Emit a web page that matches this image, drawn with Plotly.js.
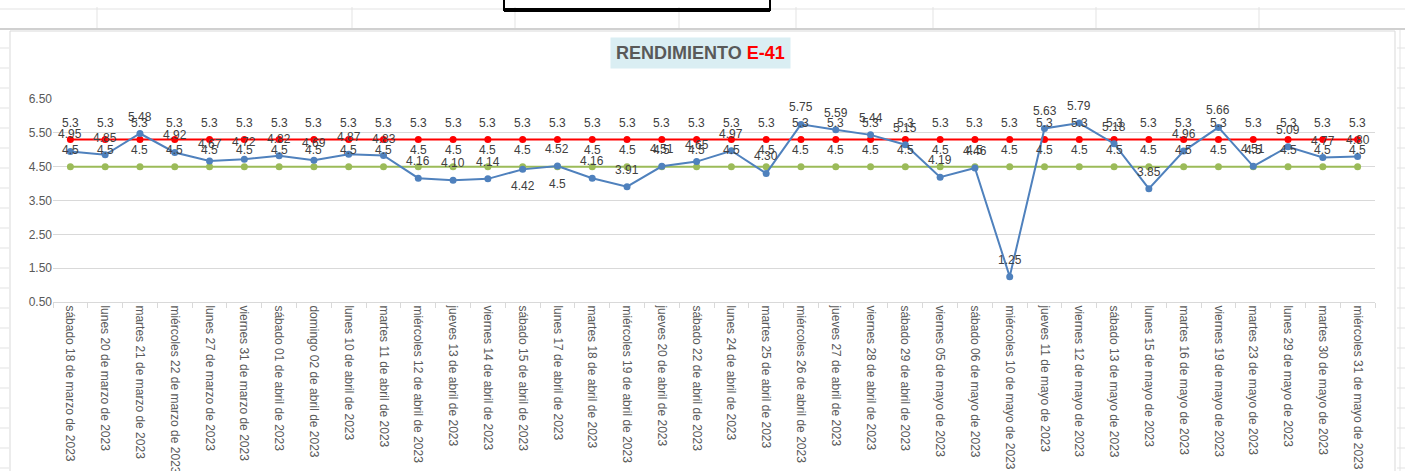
<!DOCTYPE html>
<html>
<head>
<meta charset="utf-8">
<script src="https://cdn.plot.ly/plotly-3.0.1.min.js"></script>
<style>
html,body{margin:0;padding:0;background:#ffffff;}
#chart{width:1405px;height:471px;}
</style>
</head>
<body>
<div id="chart"></div>
<script>
const categories = [
  "sábado 18 de marzo de 2023","lunes 20 de marzo de 2023","martes 21 de marzo de 2023","miércoles 22 de marzo de 2023",
  "lunes 27 de marzo de 2023","viernes 31 de marzo de 2023","sábado 01 de abril de 2023","domingo 02 de abril de 2023",
  "lunes 10 de abril de 2023","martes 11 de abril de 2023","miércoles 12 de abril de 2023","jueves 13 de abril de 2023",
  "viernes 14 de abril de 2023","sábado 15 de abril de 2023","lunes 17 de abril de 2023","martes 18 de abril de 2023",
  "miércoles 19 de abril de 2023","jueves 20 de abril de 2023","sábado 22 de abril de 2023","lunes 24 de abril de 2023",
  "martes 25 de abril de 2023","miércoles 26 de abril de 2023","jueves 27 de abril de 2023","viernes 28 de abril de 2023",
  "sábado 29 de abril de 2023","viernes 05 de mayo de 2023","sábado 06 de mayo de 2023","miércoles 10 de mayo de 2023",
  "jueves 11 de mayo de 2023","viernes 12 de mayo de 2023","sábado 13 de mayo de 2023","lunes 15 de mayo de 2023",
  "martes 16 de mayo de 2023","viernes 19 de mayo de 2023","martes 23 de mayo de 2023","lunes 29 de mayo de 2023",
  "martes 30 de mayo de 2023","miércoles 31 de mayo de 2023"
];
const rendimiento = [4.95,4.85,5.48,4.92,4.67,4.72,4.82,4.69,4.87,4.83,4.16,4.10,4.14,4.42,4.52,4.16,3.91,4.51,4.65,4.97,
  4.30,5.75,5.59,5.44,5.15,4.19,4.46,1.25,5.63,5.79,5.18,3.85,4.96,5.66,4.51,5.09,4.77,4.80];
const maximo = categories.map(() => 5.3);
const minimo = categories.map(() => 4.5);
const yTicks = [0.5,1.5,2.5,3.5,4.5,5.5,6.5];

const L = 53, R = 30, T = 99, B = 169, W = 1405, H = 471;
const pw = W - L - R, ph = H - T - B;
const px = v => (v - L) / pw;
const py = v => (H - B - v) / ph;

const blueColor = '#4F81BD', redColor = '#FF0000', greenColor = '#9BBB59';
const labelFont = {family: 'Liberation Sans, Arial, sans-serif', size: 12, color: '#404040'};
const LABEL_SHIFT = 17;

const traces = [
  {x: categories, y: minimo, type: 'scatter', mode: 'lines+markers', name: 'Mínimo',
   line: {color: greenColor, width: 2}, marker: {color: greenColor, size: 7}, hoverinfo: 'skip'},
  {x: categories, y: maximo, type: 'scatter', mode: 'lines+markers', name: 'Máximo',
   line: {color: redColor, width: 2}, marker: {color: redColor, size: 7}, hoverinfo: 'skip'},
  {x: categories, y: rendimiento, type: 'scatter', mode: 'lines+markers', name: 'Rendimiento',
   line: {color: blueColor, width: 2}, marker: {color: blueColor, size: 7}, hoverinfo: 'skip'}
];

function labels(values, fmt, belowIdx) {
  return values.map((v, i) => ({
    x: categories[i], y: v, xref: 'x', yref: 'y', text: fmt(v), showarrow: false,
    xanchor: 'center', yanchor: 'middle', yshift: belowIdx.includes(i) ? -LABEL_SHIFT : LABEL_SHIFT,
    font: labelFont
  }));
}

const shapes = [];
shapes.push({type: 'rect', xref: 'paper', yref: 'paper', x0: px(10), x1: px(1395), y0: py(476), y1: py(31),
  line: {color: '#D9D9D9', width: 1}, fillcolor: 'rgba(0,0,0,0)', layer: 'below'});
[97, 352, 515, 679, 796, 933, 1096, 1259].forEach(x => {
  shapes.push({type: 'line', xref: 'paper', yref: 'paper', x0: px(x), x1: px(x), y0: py(7), y1: py(30),
    line: {color: '#E3E3E3', width: 1}});
});
shapes.push({type: 'line', xref: 'paper', yref: 'paper', x0: px(0), x1: px(1405), y0: py(9), y1: py(9),
  line: {color: '#E3E3E3', width: 1}});
shapes.push({type: 'line', xref: 'paper', yref: 'paper', x0: px(0), x1: px(1405), y0: py(29), y1: py(29),
  line: {color: '#D0D0D0', width: 2}});
for (let y = 48; y < 471; y += 20) {
  shapes.push({type: 'line', xref: 'paper', yref: 'paper', x0: px(0), x1: px(9), y0: py(y), y1: py(y),
    line: {color: '#E3E3E3', width: 1}});
  shapes.push({type: 'line', xref: 'paper', yref: 'paper', x0: px(1397), x1: px(1405), y0: py(y), y1: py(y),
    line: {color: '#E3E3E3', width: 1}});
}
shapes.push({type: 'line', xref: 'paper', yref: 'paper', x0: px(1400), x1: px(1400), y0: py(30), y1: py(471),
  line: {color: '#E3E3E3', width: 1}});
shapes.push({type: 'rect', xref: 'paper', yref: 'paper', x0: px(504), x1: px(770), y0: py(10), y1: py(-5),
  line: {color: '#000000', width: 2}, fillcolor: 'rgba(0,0,0,0)'});
shapes.push({type: 'line', xref: 'paper', yref: 'paper', x0: px(504), x1: px(770), y0: py(10), y1: py(10),
  line: {color: '#000000', width: 4}});

const annotations = [].concat(
  labels(minimo, v => v.toString(), [14]),
  labels(maximo, v => v.toString(), []),
  labels(rendimiento, v => v.toFixed(2), [13]),
  [{
    xref: 'paper', yref: 'paper', x: px(700), y: py(53), xanchor: 'center', yanchor: 'middle',
    text: '<b>RENDIMIENTO <span style="color:#FF0000">E-41</span></b>', showarrow: false,
    font: {family: 'Liberation Sans Narrow, Arial Narrow, sans-serif', size: 18, color: '#595959'},
    bgcolor: '#DAEEF3', borderpad: 5
  }]
);

const layout = {
  width: W, height: H,
  margin: {l: L, r: R, t: T, b: B},
  paper_bgcolor: '#ffffff', plot_bgcolor: '#ffffff',
  showlegend: false,
  xaxis: {
    type: 'category', tickangle: 90, automargin: false,
    tickfont: {family: 'Liberation Sans, Arial, sans-serif', size: 12, color: '#595959'},
    showgrid: false, showline: true, linecolor: '#D9D9D9', linewidth: 1,
    ticks: 'outside', tickson: 'boundaries', ticklen: 5, tickcolor: '#D9D9D9',
    range: [-0.5, categories.length - 0.5], fixedrange: true
  },
  yaxis: {
    range: [0.5, 6.5], tickvals: yTicks, ticktext: yTicks.map(v => v.toFixed(2)),
    tickfont: {family: 'Liberation Sans, Arial, sans-serif', size: 12, color: '#595959'},
    showgrid: true, gridcolor: '#D9D9D9', gridwidth: 1, zeroline: false, showline: false,
    ticks: '', automargin: false, fixedrange: true
  },
  shapes: shapes,
  annotations: annotations
};

Plotly.newPlot('chart', traces, layout, {displayModeBar: false, staticPlot: true});
</script>
</body>
</html>
